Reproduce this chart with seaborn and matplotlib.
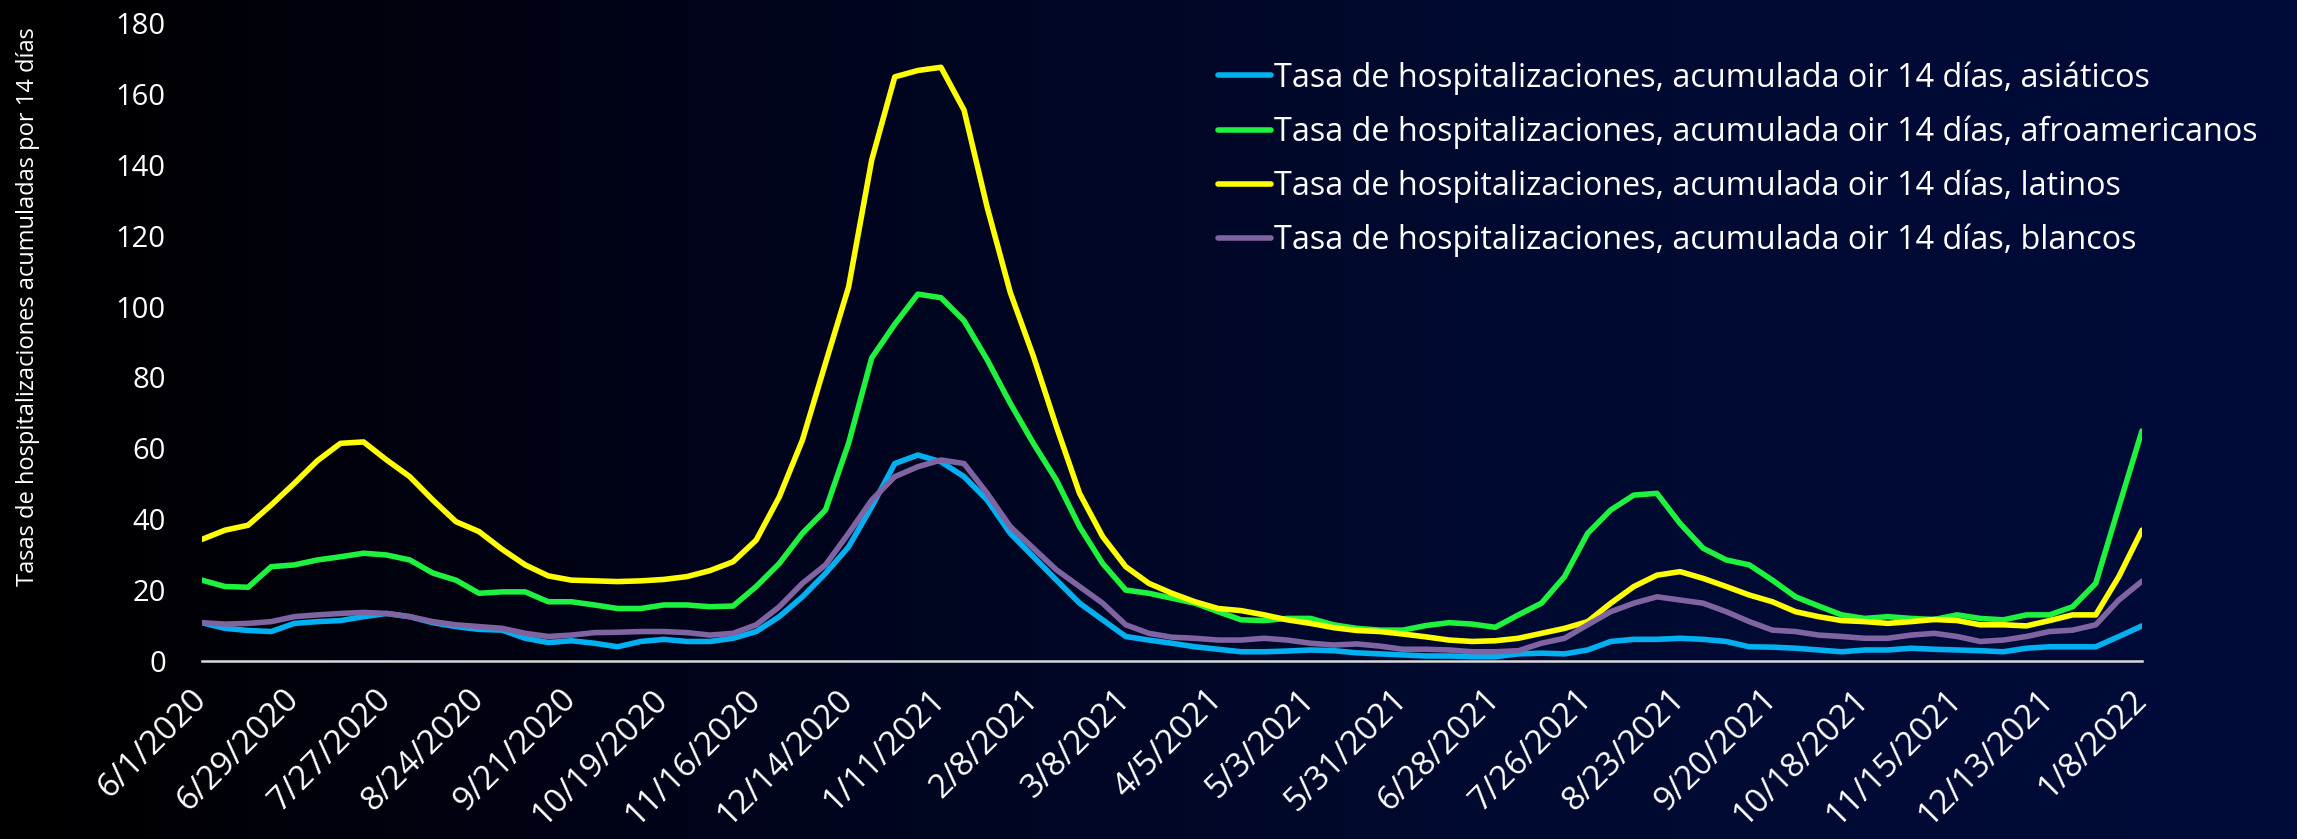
import matplotlib
matplotlib.use("Agg")
import matplotlib.pyplot as plt
import numpy as np
import pandas as pd
import seaborn as sns
from matplotlib.colors import LinearSegmentedColormap

# weekly readings (every 7th category of the daily axis, 6/1/2020 -> 1/8/2022)
asiaticos = [10.8, 9.2, 8.6, 8.3, 10.6, 11.1, 11.4, 12.5, 13.4, 12.5, 10.8, 9.7, 8.9, 8.7, 6.4, 5.2, 5.7, 5.0,
             4.0, 5.5, 6.1, 5.5, 5.5, 6.4, 8.3, 12.5, 18.1, 24.7, 32.2, 43.5, 55.7, 58.1, 56.2, 52.0, 45.4, 36.0,
             29.4, 22.8, 16.3, 11.6, 6.9, 5.9, 5.0, 4.0, 3.3, 2.6, 2.6, 2.8, 3.1, 2.9, 2.3, 2.0, 1.7, 1.4,
             1.4, 1.2, 1.2, 2.0, 2.2, 2.0, 3.1, 5.5, 6.1, 6.1, 6.4, 6.1, 5.5, 4.0, 3.9, 3.6, 3.1,
             2.6, 3.1, 3.1, 3.6, 3.3, 3.1, 2.9, 2.6, 3.6, 4.0, 4.0, 4.0, 6.9, 9.9]
afroamericanos = [22.8, 21.0, 20.8, 26.6, 27.1, 28.5, 29.4, 30.4, 29.9, 28.5, 24.8, 22.8, 19.1, 19.5, 19.5, 16.7, 16.7, 15.8,
                  14.8, 14.8, 15.8, 15.8, 15.3, 15.5, 21.0, 27.5, 36.0, 42.6, 61.4, 85.5, 95.0, 103.5, 102.5, 96.0, 85.0, 72.7,
                  61.4, 51.0, 37.9, 27.5, 20.0, 19.1, 17.7, 16.3, 13.9, 11.6, 11.4, 12.0, 12.0, 10.2, 9.2, 8.7, 8.7, 10.0,
                  10.8, 10.4, 9.5, 13.0, 16.3, 23.8, 36.0, 42.6, 46.8, 47.3, 38.8, 31.8, 28.5, 27.1, 22.8, 18.1, 15.5,
                  13.0, 12.0, 12.5, 12.0, 11.7, 13.0, 12.0, 11.6, 13.0, 13.0, 15.3, 21.9, 43.5, 64.9]
latinos = [34.3, 36.9, 38.3, 44.0, 50.1, 56.5, 61.4, 61.8, 56.7, 52.0, 45.4, 39.3, 36.5, 31.5, 27.1, 24.0, 22.8, 22.6,
           22.4, 22.6, 23.0, 23.8, 25.5, 28.0, 34.1, 46.3, 62.3, 84.0, 105.5, 141.3, 164.8, 166.6, 167.5, 155.4, 128.0, 104.0,
           86.0, 66.1, 47.3, 35.1, 26.6, 21.9, 19.1, 16.7, 14.8, 14.2, 13.0, 11.6, 10.6, 9.4, 8.6, 8.3, 7.6, 6.8,
           5.9, 5.5, 5.7, 6.4, 7.8, 9.2, 11.1, 16.3, 21.0, 24.2, 25.2, 23.3, 21.0, 18.6, 16.7, 13.9, 12.5,
           11.4, 11.1, 10.6, 11.1, 11.7, 11.4, 10.2, 10.2, 9.9, 11.4, 13.0, 13.0, 23.8, 36.9]
blancos = [10.8, 10.4, 10.6, 11.1, 12.5, 13.0, 13.4, 13.7, 13.4, 12.5, 11.1, 10.2, 9.7, 9.2, 7.8, 6.9, 7.3, 8.0,
           8.1, 8.3, 8.3, 8.0, 7.3, 7.8, 10.2, 15.3, 21.9, 27.1, 36.0, 45.4, 52.0, 54.8, 56.7, 55.7, 47.3, 37.9,
           31.8, 25.7, 21.0, 16.3, 10.2, 7.8, 6.7, 6.4, 5.9, 5.9, 6.4, 5.9, 5.0, 4.5, 4.8, 4.2, 3.3, 3.3,
           3.1, 2.6, 2.6, 2.9, 5.0, 6.4, 10.2, 13.9, 16.3, 18.1, 17.2, 16.3, 13.9, 11.1, 8.7, 8.3, 7.3,
           6.9, 6.4, 6.4, 7.3, 7.8, 6.9, 5.5, 5.9, 6.9, 8.3, 8.7, 10.2, 17.2, 22.5]

etiquetas = ["6/1/2020", "6/29/2020", "7/27/2020", "8/24/2020", "9/21/2020", "10/19/2020", "11/16/2020",
             "12/14/2020", "1/11/2021", "2/8/2021", "3/8/2021", "4/5/2021", "5/3/2021", "5/31/2021",
             "6/28/2021", "7/26/2021", "8/23/2021", "9/20/2021", "10/18/2021", "11/15/2021", "12/13/2021",
             "1/8/2022"]

grupos = ["asiáticos", "afroamericanos", "latinos", "blancos"]
colores = ["#00B0F0", "#1EF23E", "#FFFF00", "#8064A2"]
prefijo = "Tasa de hospitalizaciones, acumulada oir 14 días, "

dia = np.arange(len(asiaticos)) * 7  # category index of each weekly reading
df = pd.concat([pd.DataFrame({"dia": dia, "tasa": v, "grupo": prefijo + g})
                for g, v in zip(grupos, [asiaticos, afroamericanos, latinos, blancos])])

sns.set_style("white")
plt.rcParams["font.family"] = ["Open Sans", "DejaVu Sans"]

fig = plt.figure(figsize=(22.97, 8.39), dpi=100)

# dark horizontal gradient background
bg = fig.add_axes([0, 0, 1, 1], zorder=0)
grad = LinearSegmentedColormap.from_list("bg", ["#000000", "#00041C", "#000A30", "#010A3A"])
bg.imshow(np.linspace(0, 1, 256).reshape(1, -1), aspect="auto", cmap=grad, extent=[0, 1, 0, 1])
bg.axis("off")

ax = fig.add_axes([0.0879, 0.2122, 0.8446, 0.7604], zorder=1)
ax.set_facecolor("none")

sns.lineplot(data=df, x="dia", y="tasa", hue="grupo", palette=colores, lw=4, ax=ax, legend=False)

ax.set_xlim(0, 588)
ax.set_ylim(0, 180)
ax.set_yticks(range(0, 181, 20))
ax.set_xticks(np.arange(len(etiquetas)) * 28)
ax.set_xticklabels(etiquetas, rotation=45, ha="right", va="center", rotation_mode="anchor")
ax.tick_params(axis="y", length=0, pad=26, labelsize=21, labelcolor="white")
ax.tick_params(axis="x", length=0, pad=24, labelsize=24, labelcolor="white")

for s in ["top", "right", "left"]:
    ax.spines[s].set_visible(False)
ax.spines["bottom"].set_color("#D9D9D9")
ax.spines["bottom"].set_linewidth(1.8)

ax.set_xlabel("")
ax.set_ylabel("Tasas de hospitalizaciones acumuladas por 14 días", color="white", fontsize=17)
ax.yaxis.set_label_coords(-0.0835, 0.555)

handles = [plt.Line2D([], [], color=c, lw=4) for c in colores]
leg = ax.legend(handles, [prefijo + g for g in grupos], loc="upper left", bbox_to_anchor=(0.524, 0.94),
                frameon=False, fontsize=23.3, handlelength=1.62, handletextpad=0.1, labelspacing=0.64,
                borderpad=0, borderaxespad=0)
for t in leg.get_texts():
    t.set_color("white")

fig.savefig("out.png", dpi=100)
